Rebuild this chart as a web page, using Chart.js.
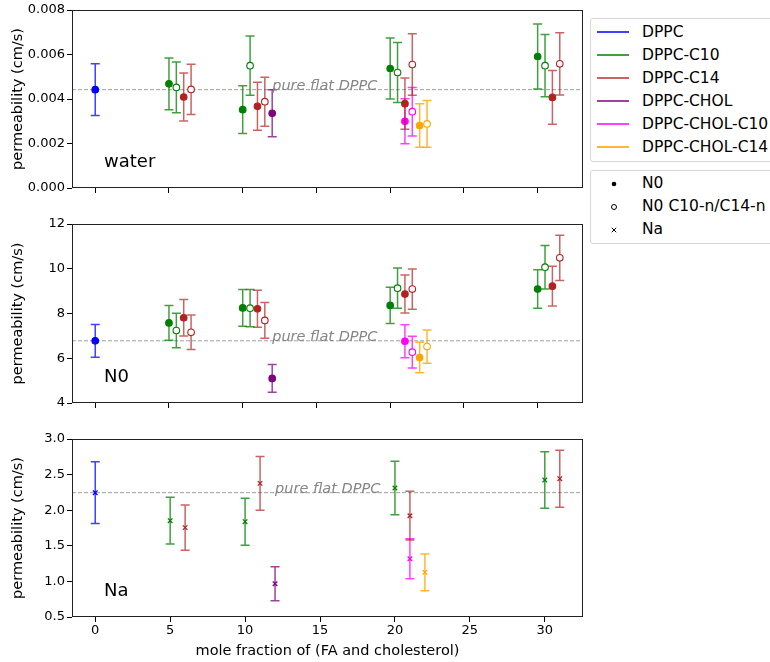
<!DOCTYPE html>
<html>
<head>
<meta charset="utf-8">
<script src="https://cdn.jsdelivr.net/npm/chart.js@4.4.0/dist/chart.umd.min.js"></script>
<style>
    body { margin: 0; width: 770px; height: 662px; overflow: hidden; position: relative; background: #fff; font-family: 'DejaVu Sans', sans-serif; }
    canvas { position: absolute; left: 0; }
    .legend { position: absolute; left: 590px; width: 200px; border: 1px solid #d6d6d6; border-radius: 3px; background: #fff; box-sizing: border-box; }
    .row { position: relative; height: 23px; font-size: 15.5px; line-height: 23px; color: #000; white-space: nowrap; }
    .row .swatch { position: absolute; left: 6px; top: 10.5px; width: 32px; height: 2px; }
    .row svg { position: absolute; left: 17px; top: 6px; }
    .row span { position: absolute; left: 51px; top: 0; }
</style>
</head>
<body>
<canvas id="waterChart" width="590" height="200" style="top:0"></canvas>
<canvas id="n0Chart" width="590" height="215" style="top:200px"></canvas>
<canvas id="naChart" width="590" height="242" style="top:420px"></canvas>

<div class="legend" id="seriesLegend" style="top:18px; height:144px; padding-top:1.5px"></div>
<div class="legend" id="markerLegend" style="top:170px; height:74px; padding-top:1px"></div>

<script>
Chart.defaults.font.family = "'DejaVu Sans', sans-serif";
Chart.defaults.color = '#000';

const xTicks = [0, 5, 10, 15, 20, 25, 30];
const waterTicks = [0, 0.002, 0.004, 0.006, 0.008];
const n0Ticks = [4, 6, 8, 10, 12];
const naTicks = [0.5, 1.0, 1.5, 2.0, 2.5, 3.0];

const seriesNames = ['DPPC', 'DPPC-C10', 'DPPC-C14', 'DPPC-CHOL', 'DPPC-CHOL-C10', 'DPPC-CHOL-C14'];
const markerNames = ['N0', 'N0 C10-n/C14-n', 'Na'];

// plotted x position of each sample (mole fraction, shifted so bars don't overlap)
const xDPPC = [0];
const xC10 = [5, 10, 20, 30];
const xC10n = [5.5, 10.5, 20.5, 30.5];
const xC14 = [6, 11, 21, 31];
const xC14n = [6.5, 11.5, 21.5, 31.5];
const xCHOL = [12];
const xCHOLC10 = [21];
const xCHOLC10n = [21.5];
const xCHOLC14 = [22];
const xCHOLC14n = [22.5];

// water permeability
const waterDPPC = [0.00442],                        waterDPPCErr = [0.00116];
const waterC10 = [0.00468, 0.00352, 0.00537, 0.00591],   waterC10Err = [0.00116, 0.00107, 0.00137, 0.00146];
const waterC10n = [0.00452, 0.00550, 0.00519, 0.00550],  waterC10nErr = [0.00114, 0.00133, 0.00135, 0.00140];
const waterC14 = [0.00409, 0.00367, 0.00379, 0.00407],   waterC14Err = [0.00108, 0.00108, 0.00115, 0.00121];
const waterC14n = [0.00443, 0.00388, 0.00555, 0.00558],  waterC14nErr = [0.00113, 0.00110, 0.00138, 0.00140];
const waterCHOL = [0.00336],                        waterCHOLErr = [0.00106];
const waterCHOLC10 = [0.00300],                     waterCHOLC10Err = [0.00101];
const waterCHOLC10n = [0.00343],                    waterCHOLC10nErr = [0.00109];
const waterCHOLC14 = [0.00281],                     waterCHOLC14Err = [0.00098];
const waterCHOLC14n = [0.00288],                    waterCHOLC14nErr = [0.00105];

// N0 permeability
const n0DPPC = [6.78],                        n0DPPCErr = [0.73];
const n0C10 = [7.58, 8.25, 8.36, 9.09],        n0C10Err = [0.78, 0.82, 0.81, 0.86];
const n0C10n = [7.24, 8.24, 9.13, 10.07],      n0C10nErr = [0.77, 0.83, 0.90, 0.97];
const n0C14 = [7.81, 8.21, 8.87, 9.22],        n0C14Err = [0.82, 0.83, 0.85, 0.89];
const n0C14n = [7.16, 7.69, 9.09, 10.49],      n0C14nErr = [0.77, 0.80, 0.90, 1.01];
const n0CHOL = [5.10],                        n0CHOLErr = [0.62];
const n0CHOLC10 = [6.76],                     n0CHOLC10Err = [0.74];
const n0CHOLC10n = [6.27],                    n0CHOLC10nErr = [0.71];
const n0CHOLC14 = [6.03],                     n0CHOLC14Err = [0.68];
const n0CHOLC14n = [6.52],                    n0CHOLC14nErr = [0.74];

// Na permeability
const naDPPC = [2.246],                         naDPPCErr = [0.433];
const naC10 = [1.853, 1.839, 2.312, 2.424],      naC10Err = [0.328, 0.330, 0.375, 0.398];
const naC14 = [1.755, 2.377, 1.923, 2.443],      naC14Err = [0.318, 0.377, 0.342, 0.400];
const naCHOL = [0.968],                         naCHOLErr = [0.239];
const naCHOLC10 = [1.319],                      naCHOLC10Err = [0.281];
const naCHOLC14 = [1.127],                      naCHOLC14Err = [0.257];

const colors = {
    DPPC: ['rgb(0,0,255)', 'rgba(0,0,255,0.75)'],
    C10: ['rgb(0,128,0)', 'rgba(0,128,0,0.75)'],
    C14: ['rgb(178,34,34)', 'rgba(178,34,34,0.7)'],
    CHOL: ['rgb(128,0,128)', 'rgba(128,0,128,0.75)'],
    CHOLC10: ['rgb(255,0,255)', 'rgba(255,0,255,0.75)'],
    CHOLC14: ['rgb(255,165,0)', 'rgba(255,165,0,0.8)']
};

function series(xs, ys, errs, key, style) {
    const [c, ec] = colors[key];
    return {
        data: xs.map((x, i) => ({ x: x, y: ys[i], err: errs[i] })),
        errColor: ec,
        pointStyle: style === 'x' ? 'crossRot' : 'circle',
        pointRadius: style === 'x' ? 3.2 : 3.3,
        backgroundColor: style === 'open' ? '#fff' : c,
        borderColor: c,
        borderWidth: style === 'x' ? 1.3 : 1.1
    };
}

// error bar drawn right before each dataset's markers
const errorBars = {
    id: 'errorBars',
    beforeDatasetDraw(chart, args) {
        const ds = chart.data.datasets[args.index];
        const { ctx, scales: { x, y } } = chart;
        ctx.save();
        ctx.strokeStyle = ds.errColor;
        ctx.lineWidth = 1.5;
        ds.data.forEach(p => {
            const px = x.getPixelForValue(p.x);
            const top = y.getPixelForValue(p.y + p.err);
            const bot = y.getPixelForValue(p.y - p.err);
            ctx.beginPath();
            ctx.moveTo(px, top); ctx.lineTo(px, bot);
            ctx.moveTo(px - 4.5, top); ctx.lineTo(px + 4.5, top);
            ctx.moveTo(px - 4.5, bot); ctx.lineTo(px + 4.5, bot);
            ctx.stroke();
        });
        ctx.restore();
    }
};

// reference line, panel label and the box around the axes
const panelDecor = {
    id: 'panelDecor',
    beforeDatasetsDraw(chart, args, opts) {
        const { ctx, chartArea: a, scales: { y } } = chart;
        const py = y.getPixelForValue(opts.ref);
        ctx.save();
        ctx.strokeStyle = 'rgba(128,128,128,0.75)';
        ctx.lineWidth = 1;
        ctx.setLineDash([4, 2]);
        ctx.beginPath();
        ctx.moveTo(a.left, py); ctx.lineTo(a.right, py);
        ctx.stroke();
        ctx.restore();
    },
    afterDatasetsDraw(chart, args, opts) {
        const { ctx, chartArea: a, scales: { x, y } } = chart;
        ctx.save();
        ctx.fillStyle = 'rgba(128,128,128,0.95)';
        ctx.font = "italic 14.5px 'DejaVu Sans'";
        ctx.textBaseline = 'alphabetic';
        ctx.fillText('pure flat DPPC', x.getPixelForValue(12), y.getPixelForValue(opts.ref));
        ctx.fillStyle = '#000';
        ctx.font = "18px 'DejaVu Sans'";
        ctx.fillText(opts.label, a.left + 32, a.bottom - 21);
        ctx.strokeStyle = '#222';
        ctx.lineWidth = 1;
        ctx.strokeRect(Math.round(a.left) + 0.5, Math.round(a.top) + 0.5,
            Math.round(a.width) - 1, Math.round(a.height) - 1);
        ctx.restore();
    }
};

function makePanel(id, datasets, opts) {
    const tickGrid = { drawOnChartArea: false, tickLength: 5, color: '#000', lineWidth: 1 };
    new Chart(document.getElementById(id), {
        type: 'scatter',
        data: { datasets: datasets },
        options: {
            responsive: false,
            animation: false,
            events: [],
            layout: { padding: { top: opts.padTop, left: 0, right: 7, bottom: 0 } },
            plugins: {
                legend: { display: false },
                tooltip: { enabled: false },
                panelDecor: { ref: opts.ref, label: opts.label }
            },
            scales: {
                x: {
                    type: 'linear',
                    min: opts.xMin, max: opts.xMax,
                    afterBuildTicks: s => { s.ticks = xTicks.map(v => ({ value: v })); },
                    afterFit: s => { s.height = opts.xHeight; },
                    ticks: { display: opts.showX, font: { size: 13 }, padding: 1, maxRotation: 0 },
                    grid: tickGrid,
                    border: { display: false },
                    title: {
                        display: opts.showX,
                        text: 'mole fraction of (FA and cholesterol)',
                        font: { size: 14.5 },
                        padding: { top: 0, bottom: 2 }
                    }
                },
                y: {
                    min: opts.yTicks[0], max: opts.yTicks[opts.yTicks.length - 1],
                    afterBuildTicks: s => { s.ticks = opts.yTicks.map(v => ({ value: v })); },
                    afterFit: s => { s.width = 72; },
                    ticks: { font: { size: 13 }, padding: 2, callback: opts.fmt },
                    grid: tickGrid,
                    border: { display: false },
                    title: {
                        display: true,
                        text: 'permeability (cm/s)',
                        font: { size: 14.5 },
                        padding: { top: 10, bottom: 0 }
                    }
                }
            }
        },
        plugins: [errorBars, panelDecor]
    });
}

makePanel('waterChart', [
    series(xDPPC, waterDPPC, waterDPPCErr, 'DPPC', 'fill'),
    series(xC10, waterC10, waterC10Err, 'C10', 'fill'),
    series(xC10n, waterC10n, waterC10nErr, 'C10', 'open'),
    series(xC14, waterC14, waterC14Err, 'C14', 'fill'),
    series(xC14n, waterC14n, waterC14nErr, 'C14', 'open'),
    series(xCHOL, waterCHOL, waterCHOLErr, 'CHOL', 'fill'),
    series(xCHOLC10, waterCHOLC10, waterCHOLC10Err, 'CHOLC10', 'fill'),
    series(xCHOLC10n, waterCHOLC10n, waterCHOLC10nErr, 'CHOLC10', 'open'),
    series(xCHOLC14, waterCHOLC14, waterCHOLC14Err, 'CHOLC14', 'fill'),
    series(xCHOLC14n, waterCHOLC14n, waterCHOLC14nErr, 'CHOLC14', 'open')
], { padTop: 10, xHeight: 12, xMin: -1.575, xMax: 33.075, showX: false,
     yTicks: waterTicks, fmt: v => v.toFixed(3), ref: waterDPPC[0], label: 'water' });

makePanel('n0Chart', [
    series(xDPPC, n0DPPC, n0DPPCErr, 'DPPC', 'fill'),
    series(xC10, n0C10, n0C10Err, 'C10', 'fill'),
    series(xC10n, n0C10n, n0C10nErr, 'C10', 'open'),
    series(xC14, n0C14, n0C14Err, 'C14', 'fill'),
    series(xC14n, n0C14n, n0C14nErr, 'C14', 'open'),
    series(xCHOL, n0CHOL, n0CHOLErr, 'CHOL', 'fill'),
    series(xCHOLC10, n0CHOLC10, n0CHOLC10Err, 'CHOLC10', 'fill'),
    series(xCHOLC10n, n0CHOLC10n, n0CHOLC10nErr, 'CHOLC10', 'open'),
    series(xCHOLC14, n0CHOLC14, n0CHOLC14Err, 'CHOLC14', 'fill'),
    series(xCHOLC14n, n0CHOLC14n, n0CHOLC14nErr, 'CHOLC14', 'open')
], { padTop: 24, xHeight: 12, xMin: -1.575, xMax: 33.075, showX: false,
     yTicks: n0Ticks, fmt: v => String(v), ref: n0DPPC[0], label: 'N0' });

makePanel('naChart', [
    series(xDPPC, naDPPC, naDPPCErr, 'DPPC', 'x'),
    series(xC10, naC10, naC10Err, 'C10', 'x'),
    series(xC14, naC14, naC14Err, 'C14', 'x'),
    series(xCHOL, naCHOL, naCHOLErr, 'CHOL', 'x'),
    series(xCHOLC10, naCHOLC10, naCHOLC10Err, 'CHOLC10', 'x'),
    series(xCHOLC14, naCHOLC14, naCHOLC14Err, 'CHOLC14', 'x')
], { padTop: 19, xHeight: 45, xMin: -1.55, xMax: 32.55, showX: true,
     yTicks: naTicks, fmt: v => v.toFixed(1), ref: naDPPC[0], label: 'Na' });

// legends
const legendKeys = ['DPPC', 'C10', 'C14', 'CHOL', 'CHOLC10', 'CHOLC14'];
const seriesLegend = document.getElementById('seriesLegend');
seriesNames.forEach((name, i) => {
    const row = document.createElement('div');
    row.className = 'row';
    row.innerHTML = `<div class="swatch" style="background:${colors[legendKeys[i]][1]}"></div><span>${name}</span>`;
    seriesLegend.appendChild(row);
});

const markerIcons = [
    '<svg width="12" height="12"><circle cx="6" cy="6" r="2.3" fill="#000"/></svg>',
    '<svg width="12" height="12"><circle cx="6" cy="6" r="2.5" fill="#fff" stroke="#000" stroke-width="1"/></svg>',
    '<svg width="12" height="12"><path d="M3.8 3.8L8.2 8.2M8.2 3.8L3.8 8.2" stroke="#000" stroke-width="1"/></svg>'
];
const markerLegend = document.getElementById('markerLegend');
markerNames.forEach((name, i) => {
    const row = document.createElement('div');
    row.className = 'row';
    row.innerHTML = `${markerIcons[i]}<span>${name}</span>`;
    markerLegend.appendChild(row);
});
</script>
</body>
</html>
